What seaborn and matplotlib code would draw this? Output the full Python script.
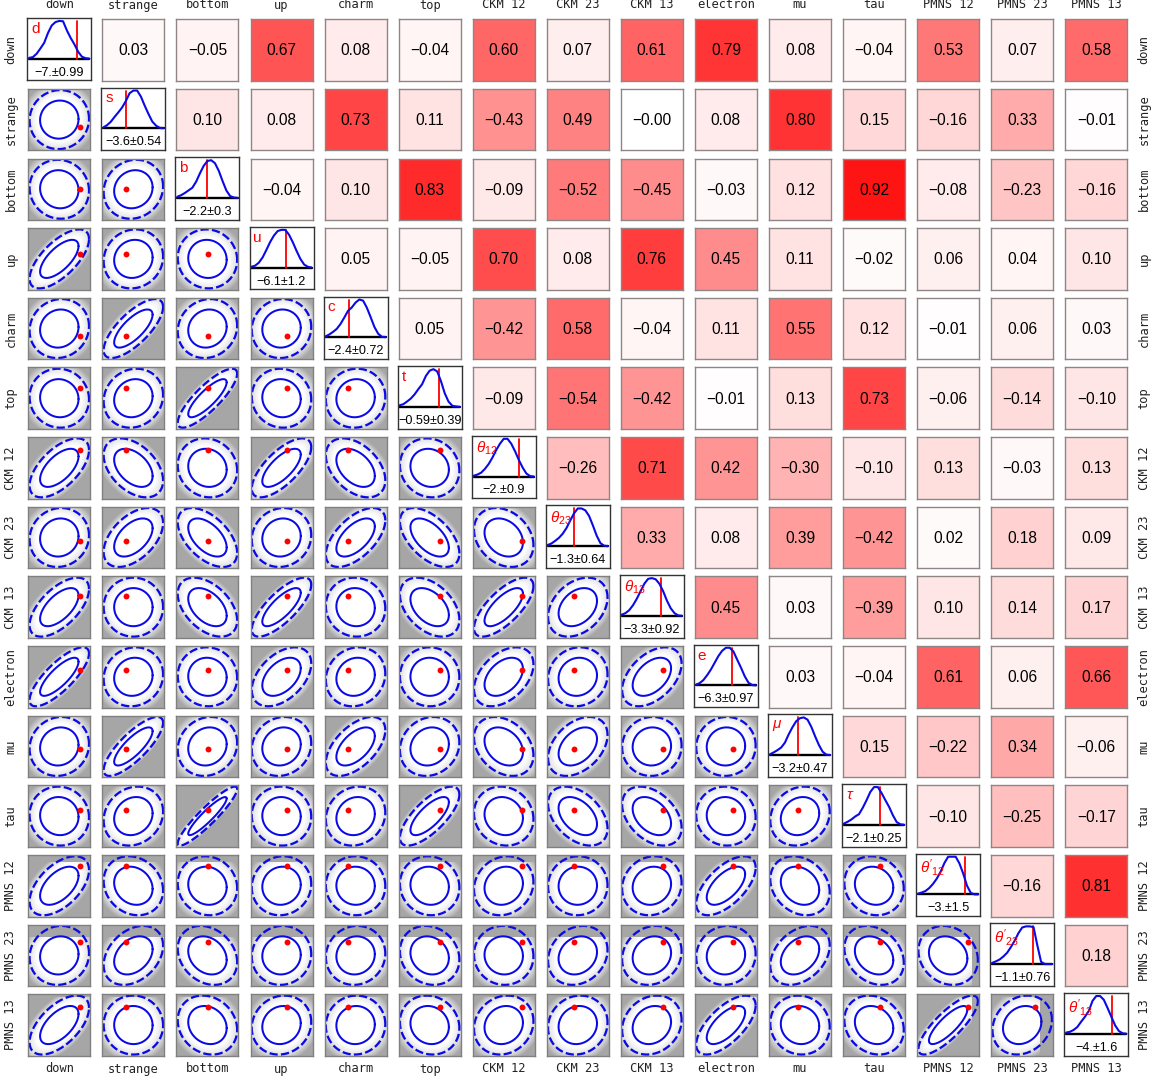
import numpy as np
import matplotlib
matplotlib.use('Agg')
import matplotlib.pyplot as plt
import seaborn as sns

sns.set_theme(style='white')
plt.rcParams['font.family'] = ['Liberation Sans', 'DejaVu Sans']
plt.rcParams['mathtext.fontset'] = 'custom'
plt.rcParams['mathtext.rm'] = 'Liberation Sans'
plt.rcParams['mathtext.it'] = 'Liberation Sans:italic'

names = ['down', 'strange', 'bottom', 'up', 'charm', 'top', 'CKM 12', 'CKM 23', 'CKM 13',
         'electron', 'mu', 'tau', 'PMNS 12', 'PMNS 23', 'PMNS 13']
symbols = ['d', 's', 'b', 'u', 'c', 't', r'$\theta_{12}$', r'$\theta_{23}$', r'$\theta_{13}$',
           'e', r'$\mu$', r'$\tau$', r"$\theta'_{12}$", r"$\theta'_{23}$", r"$\theta'_{13}$"]
fit_labels = ['−7.±0.99', '−3.6±0.54', '−2.2±0.3', '−6.1±1.2', '−2.4±0.72', '−0.59±0.39',
              '−2.±0.9', '−1.3±0.64', '−3.3±0.92', '−6.3±0.97', '−3.2±0.47', '−2.1±0.25',
              '−3.±1.5', '−1.1±0.76', '−4.±1.6']

# upper triangle of the correlation matrix, row by row
corr_rows = [
    [0.03, -0.05, 0.67, 0.08, -0.04, 0.60, 0.07, 0.61, 0.79, 0.08, -0.04, 0.53, 0.07, 0.58],
    [0.10, 0.08, 0.73, 0.11, -0.43, 0.49, -0.00, 0.08, 0.80, 0.15, -0.16, 0.33, -0.01],
    [-0.04, 0.10, 0.83, -0.09, -0.52, -0.45, -0.03, 0.12, 0.92, -0.08, -0.23, -0.16],
    [0.05, -0.05, 0.70, 0.08, 0.76, 0.45, 0.11, -0.02, 0.06, 0.04, 0.10],
    [0.05, -0.42, 0.58, -0.04, 0.11, 0.55, 0.12, -0.01, 0.06, 0.03],
    [-0.09, -0.54, -0.42, -0.01, 0.13, 0.73, -0.06, -0.14, -0.10],
    [-0.26, 0.71, 0.42, -0.30, -0.10, 0.13, -0.03, 0.13],
    [0.33, 0.08, 0.39, -0.42, 0.02, 0.18, 0.09],
    [0.45, 0.03, -0.39, 0.10, 0.14, 0.17],
    [0.03, -0.04, 0.61, 0.06, 0.66],
    [0.15, -0.22, 0.34, -0.06],
    [-0.10, -0.25, -0.17],
    [-0.16, 0.81],
    [0.18],
]

# best fit point and upper edge of the sampled region, in panel units
best_fit = [0.68, -0.25, 0.01, 0.17, -0.25, 0.32, 0.58, -0.11, 0.35, 0.23, -0.08, 0.20, 0.65, 0.42, 0.59]
sample_edge = [2, 2, 2, 2, 2, 2, 2, 2, 2, 2, 2, 2, 0.77, 0.57, 0.90]

# 1d posteriors on the diagonal, heights read at equal steps
curves = [
    [.02, .04, .13, .27, .42, .68, .88, .97, 1, .99, .75, .55, .38, .18, .05, .01, 0],
    [.02, .08, .17, .30, .42, .55, .72, .93, 1, 1, .84, .60, .38, .18, .07, .01, 0],
    [.03, .07, .13, .20, .27, .43, .65, .85, .98, 1, .92, .72, .45, .20, .05, .01, 0],
    [.02, .05, .13, .27, .47, .68, .85, .97, 1, 1, .87, .67, .44, .23, .08, .02, 0],
    [.02, .07, .14, .22, .35, .52, .70, .79, .92, 1, .97, .78, .53, .27, .09, .01, 0],
    [.04, .07, .14, .22, .33, .47, .60, .82, .96, 1, .94, .68, .36, .14, .03, .01, 0],
    [.02, .05, .10, .20, .33, .50, .70, .87, 1, 1, .87, .67, .44, .24, .08, .01, 0],
    [.03, .07, .14, .22, .33, .48, .68, .87, 1, 1, .95, .80, .55, .28, .08, .01, 0],
    [.03, .07, .15, .28, .45, .65, .85, .98, 1, .97, .85, .65, .40, .20, .07, .01, 0],
    [.02, .06, .14, .27, .42, .60, .78, .92, 1, 1, .90, .68, .47, .24, .07, .01, 0],
    [.02, .07, .13, .20, .33, .55, .74, .90, .98, 1, .94, .75, .50, .27, .09, .01, 0],
    [.03, .08, .14, .22, .28, .45, .65, .87, 1, 1, .84, .65, .47, .25, .07, .01, 0],
    [.02, .05, .09, .17, .28, .42, .60, .83, 1, 1, 1, .82, .55, .23, .04, 0, 0],
    [.03, .07, .12, .20, .30, .45, .62, .82, .97, 1, 1, .98, .50, .06, 0, 0, 0],
    [.03, .05, .10, .18, .32, .45, .60, .87, 1, 1, .90, .68, .45, .22, .07, .01, 0],
]
true_lines = [.79, .38, .50, .57, .39, .65, .76, .445, .657, .60, .46, .59, .78, .686, .76]

W, H = 1160, 1081
n = len(names)
solid_r, dashed_r = 0.62, 0.96

fig = plt.figure(figsize=(W / 100, H / 100), dpi=100)


def panel(x, y, w, h):
    return fig.add_axes([x / W, 1 - (y + h) / H, w / W, h / H])


def frame(ax, color, width):
    for s in ax.spines.values():
        s.set_visible(True)
        s.set_color(color)
        s.set_linewidth(width)


cell_cmap = sns.blend_palette(['white', 'red'], as_cmap=True)
cloud_cmap = sns.blend_palette(['#a6a6a6', 'white'], as_cmap=True)
t = np.linspace(0, 2 * np.pi, 240)
grid = (np.arange(62) + 0.5) / 31 - 1

for i in range(n):
    for j in range(n):
        x0 = 28.3 + 74.07 * j
        y0 = 19.2 + 69.65 * i
        if i == j:
            ax = panel(x0 - 1, y0 - 1.3, 64, 62.5)
            xs = np.linspace(0, 1, len(curves[i]))
            sns.lineplot(x=[0, 1], y=[0, 0], color='black', linewidth=1.7, ax=ax)
            sns.lineplot(x=[true_lines[i]] * 2, y=[0, 1], color='red', linewidth=1.3,
                         estimator=None, sort=False, ax=ax)
            sns.lineplot(x=xs, y=curves[i], color='#0a0ae6', linewidth=1.5, ax=ax)
            ax.set_xlim(-0.03, 1.03)
            ax.set_ylim(-0.578, 1.08)
            ax.set(xticks=[], yticks=[], xlabel='', ylabel='')
            ax.text(0.5, 0.125, fit_labels[i], transform=ax.transAxes, ha='center', va='center',
                    fontsize=9.1, color='black')
            ax.text(0.06, 0.94, symbols[i], transform=ax.transAxes, ha='left', va='top',
                    fontsize=11, color='red')
            frame(ax, '#333333', 1.0)
        elif i < j:
            ax = panel(x0, y0, 62, 61.5)
            rho = corr_rows[i][j - i - 1]
            txt = f'{rho:.2f}'.replace('-', '−')
            sns.heatmap([[abs(rho)]], vmin=0, vmax=1.0, cmap=cell_cmap, cbar=False,
                        annot=[[txt]], fmt='', xticklabels=False, yticklabels=False,
                        annot_kws={'color': 'black', 'fontsize': 11.2}, ax=ax)
            # heatmap y runs downwards, move the number a pixel lower
            ax.texts[0].set_y(0.517)
            frame(ax, '#8f8585', 1.0)
        else:
            ax = panel(x0, y0, 62, 61.5)
            rho = corr_rows[j][i - j - 1]
            gx, gy = np.meshgrid(grid, grid)
            r = np.sqrt((gx ** 2 - 2 * rho * gx * gy + gy ** 2) / (1 - rho ** 2)) / solid_r
            shade = np.interp(r, [1.15, 1.4, 1.6, 1.95], [1, 0.8, 0.6, 0])
            shade[(gy > sample_edge[i]) | (gx > sample_edge[j])] = 0
            ax.imshow(shade, origin='lower', extent=(-1, 1, -1, 1), cmap=cloud_cmap, vmin=0, vmax=1,
                      aspect='auto', interpolation='nearest')
            for radius, dash in [(solid_r, None), (dashed_r, (0, (3.6, 1.4)))]:
                ex = radius * np.cos(t)
                ey = radius * np.cos(t - np.arccos(rho))
                kw = {'linestyle': dash} if dash else {}
                sns.lineplot(x=ex, y=ey, color='#0a0ae6', linewidth=1.45 if dash is None else 1.65,
                             estimator=None, sort=False, ax=ax, **kw)
            sns.scatterplot(x=[best_fit[j]], y=[best_fit[i]], color='red', s=18, linewidth=0, zorder=5, ax=ax)
            ax.set_xlim(-1, 1)
            ax.set_ylim(-1, 1)
            ax.set(xticks=[], yticks=[], xlabel='', ylabel='')
            frame(ax, '#808080', 1.0)

for k, name in enumerate(names):
    cx = 59.3 + 74.07 * k
    cy = 50 + 69.65 * k
    for y in (5, 1069):
        fig.text(cx / W, 1 - y / H, name, family='DejaVu Sans Mono', fontsize=8.65,
                 ha='center', va='center', color='#222222')
    for x in (11, 1144):
        fig.text(x / W, 1 - cy / H, name, family='DejaVu Sans Mono', fontsize=8.65,
                 rotation=90, ha='center', va='center', color='#222222')

fig.savefig('out.png', dpi=100)
